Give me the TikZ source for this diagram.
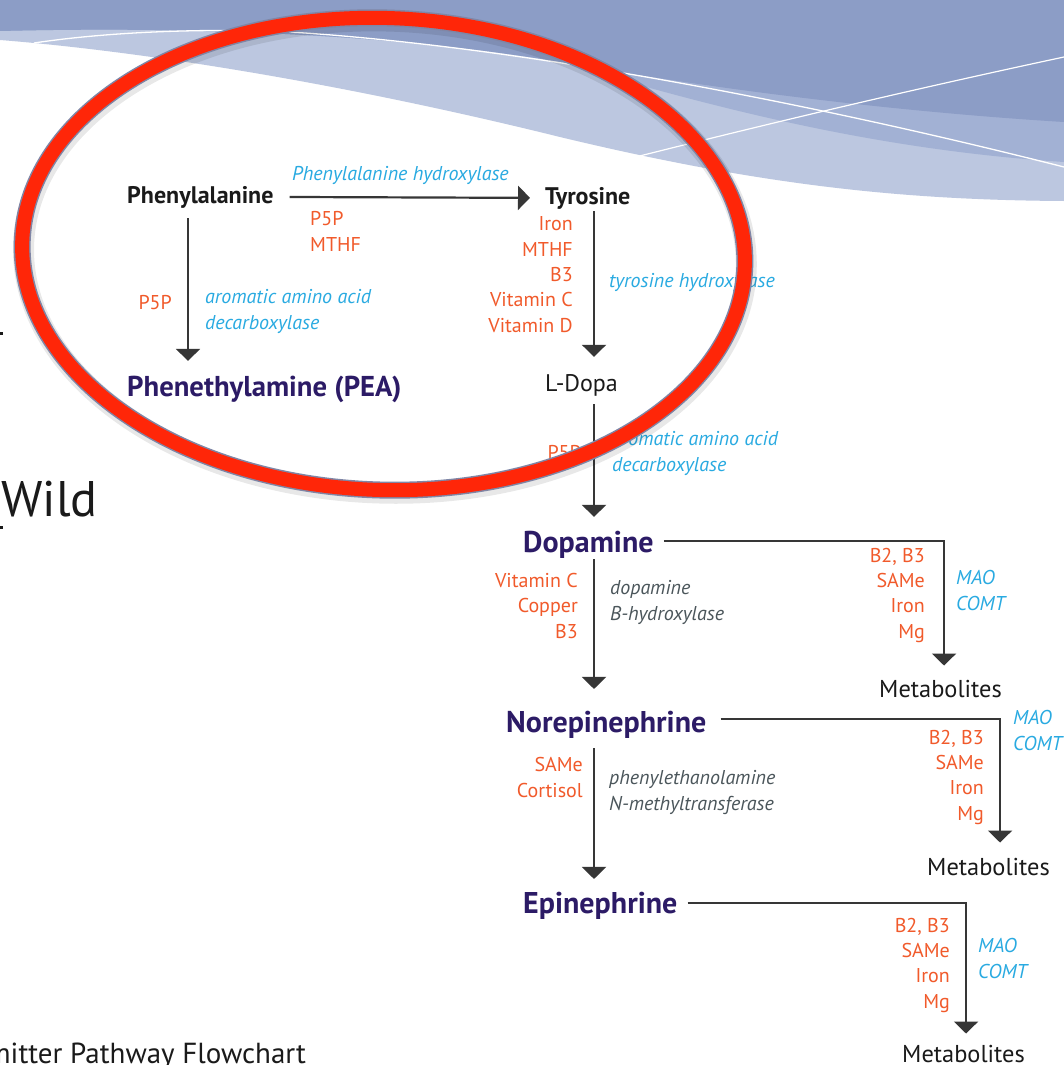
\documentclass[tikz,border=0pt]{standalone}
\usepackage{fontspec}
\setmainfont{PT Sans}
\usetikzlibrary{arrows.meta}
\definecolor{bandDark}{HTML}{8C9DC6}
\definecolor{bandMid}{HTML}{A2B1D4}
\definecolor{bandLight}{HTML}{BCC7E0}
\definecolor{inkBlack}{HTML}{1A1A1A}
\definecolor{inkPurple}{HTML}{2C1B66}
\definecolor{cofRed}{HTML}{F15A2B}
\definecolor{enzBlue}{HTML}{29AAE1}
\definecolor{enzGray}{HTML}{4B565B}
\definecolor{arrowGray}{HTML}{363636}
\definecolor{ringRed}{RGB}{255,38,8}
\definecolor{ringEdge}{HTML}{7F86A6}

\begin{document}
\begin{tikzpicture}[x=1pt,y=-1pt,
  arr/.style={draw=arrowGray, line width=2.2pt, -{Triangle[width=24pt,length=12pt]}},
  subst/.style={anchor=base west, inner sep=0pt, text=inkBlack, font=\fontsize{24}{28}\selectfont\bfseries},
  plain/.style={anchor=base west, inner sep=0pt, text=inkBlack, font=\fontsize{24.4}{28}\selectfont},
  hub/.style={anchor=base west, inner sep=0pt, text=inkPurple, font=\fontsize{30}{34}\selectfont\bfseries},
  cof/.style={anchor=base east, inner sep=0pt, text=cofRed, align=right, font=\fontsize{20}{25.3}\selectfont},
  cofl/.style={cof, anchor=base west, align=left},
  enz/.style={anchor=base west, inner sep=0pt, text=enzBlue, align=left, font=\fontsize{20}{25.3}\selectfont\itshape},
  enzg/.style={enz, text=enzGray},
]
\useasboundingbox (0,0) rectangle (1064,1065);
\clip (0,0) rectangle (1064,1065);
\fill[white] (0,0) rectangle (1064,1065);

% header swoosh bands
\fill[bandLight] (0,0) -- (0,40) .. controls (150,52) and (350,85) .. (560,137)
  .. controls (760,185) and (900,200) .. (1064,201) -- (1064,0) -- cycle;
\fill[bandMid] (0,0) -- (0,31) .. controls (200,26) and (400,35) .. (560,62)
  .. controls (720,110) and (880,150) .. (1064,162) -- (1064,0) -- cycle;
\fill[bandDark] (0,0) -- (0,31) .. controls (200,26) and (400,35) .. (560,62)
  .. controls (720,90) and (900,112) .. (1064,122) -- (1064,0) -- cycle;
\draw[white, line width=1.3pt] (34,43) .. controls (120,30) and (230,28) .. (305,33)
  .. controls (520,48) and (800,100) .. (1064,167);
\draw[white, line width=1.2pt] (604,165) .. controls (750,128) and (900,92) .. (1064,57);

% slide remnants at the left and bottom edges
\fill[inkBlack] (0,332) rectangle (3,335);
\fill[inkBlack] (0,526) rectangle (3,529);
\node[anchor=base west, inner sep=0pt, text=inkBlack, font=\fontsize{50}{54}\selectfont] (wild) at (1,516) {Wild};
\node[anchor=base west, inner sep=0pt, text=inkBlack, font=\fontsize{29}{32}\selectfont] (title) at (-13,1063) {mitter Pathway Flowchart};

% compounds
\node[subst] (phe) at (127,203) {Phenylalanine};
\node[subst] (tyr) at (545,204) {Tyrosine};
\node[hub, font=\fontsize{28.7}{32}\selectfont\bfseries] (pea) at (127,396) {Phenethylamine (PEA)};
\node[plain, font=\fontsize{24}{28}\selectfont] (ldopa) at (545,391) {L-Dopa};
\node[hub] (dop) at (523,552) {Dopamine};
\node[hub] (nor) at (506,732) {Norepinephrine};
\node[hub] (epi) at (523,913) {Epinephrine};
\node[plain] (met1) at (879,697) {Metabolites};
\node[plain] (met2) at (927,875) {Metabolites};
\node[plain] (met3) at (902,1062) {Metabolites};

% enzymes and cofactors (multi-line nodes sit on their last baseline)
\node[enz] (e1) at (292,180) {Phenylalanine hydroxylase};
\node[cofl] (c1) at (310,251) {P5P\\MTHF};
\node[cof] (c2) at (172,309) {P5P};
\node[enz] (e2) at (205,329) {aromatic amino acid\\decarboxylase};
\node[cof] (c3) at (573,332) {Iron\\MTHF\\B3\\Vitamin C\\Vitamin D};
\node[enz] (e3) at (609,287) {tyrosine hydroxylase};
\node[cof] (c4) at (581,459) {P5P};
\node[enz] (e4) at (612,471) {aromatic amino acid\\decarboxylase};
\node[cof] (c5) at (578,638) {Vitamin C\\Copper\\B3};
\node[enzg] (e5) at (610,620) {dopamine\\B-hydroxylase};
\node[cof] (c6) at (583,797) {SAMe\\Cortisol};
\node[enzg] (e6) at (609,810) {phenylethanolamine\\N-methyltransferase};
\node[cof] (c7) at (925,638) {B2, B3\\SAMe\\Iron\\Mg};
\node[enz] (e7) at (956,610) {MAO\\COMT};
\node[cof] (c8) at (984,820) {B2, B3\\SAMe\\Iron\\Mg};
\node[enz] (e8) at (1013,750) {MAO\\COMT};
\node[cof] (c9) at (950,1008) {B2, B3\\SAMe\\Iron\\Mg};
\node[enz] (e9) at (978,978) {MAO\\COMT};

% reaction arrows
\coordinate (pcol) at (188,0);
\coordinate (col) at (594,0);
\draw[arr, shorten <=16pt, shorten >=15pt] (phe.east) -- (tyr.west);
\draw[arr, shorten <=10pt, shorten >=14.5pt] (pcol |- phe.south) -- (pcol |- pea.north);
\draw[arr, shorten <=2pt, shorten >=17pt] (col |- tyr.south) -- (col |- ldopa.north);
\draw[arr, shorten <=8pt, shorten >=13.6pt] (col |- ldopa.south) -- (col |- dop.north);
\draw[arr, shorten <=1pt, shorten >=21.5pt] (col |- dop.south) -- (col |- nor.north);
\draw[arr, shorten <=10pt, shorten >=12.5pt] (col |- nor.south) -- (col |- epi.north);

% breakdown branches
\draw[arr, shorten <=10pt, shorten >=14pt] ([yshift=3.5pt]dop.east) -| ([xshift=3.5pt]met1.north);
\draw[arr, shorten <=14pt, shorten >=15pt] ([yshift=5pt]nor.east) -| ([xshift=11.5pt]met2.north);
\draw[arr, shorten <=10pt, shorten >=11pt] ([yshift=2pt]epi.east) -| ([xshift=2.5pt]met3.north);

% highlight ring
\begin{scope}[rotate around={-2:(383.5,254)}]
  \draw[line width=21pt, black, opacity=0.09] (385,257) ellipse [x radius=361.5, y radius=236];
  \draw[line width=17pt, ringEdge] (383.5,254) ellipse [x radius=361.5, y radius=236];
  \draw[line width=14pt, ringRed] (383.5,254) ellipse [x radius=361.5, y radius=236];
\end{scope}
\end{tikzpicture}
\end{document}
